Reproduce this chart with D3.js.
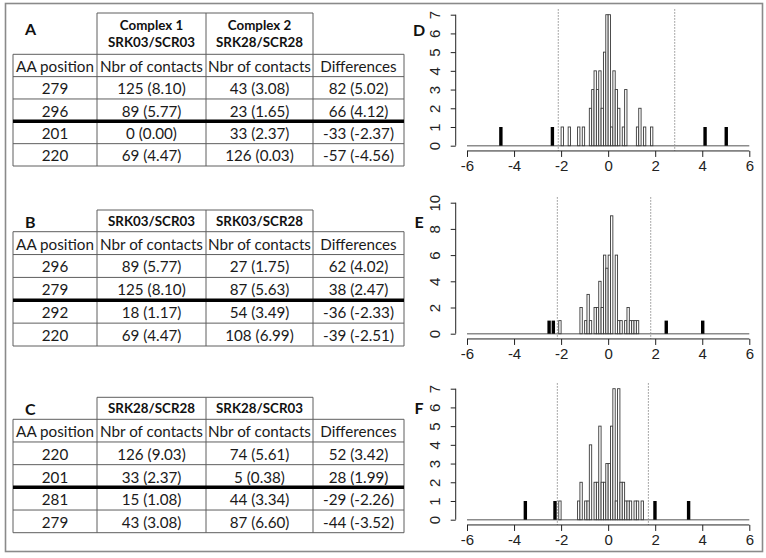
<!DOCTYPE html>
<html><head><meta charset="utf-8">
<script src="https://cdn.jsdelivr.net/npm/d3@7"></script>
<style>body{margin:0;background:#fff}</style>
</head><body>
<svg id="fig" width="766" height="558"></svg>
<script>
// ---------------- DATA ----------------
const colLabels = ["AA position", "Nbr of contacts", "Nbr of contacts", "Differences"];

const tableA_title = "A";
const tableA_header1 = ["Complex 1", "SRK03/SCR03"];
const tableA_header2 = ["Complex 2", "SRK28/SCR28"];
const tableA_positions = ["279", "296", "201", "220"];
const tableA_contacts1 = ["125 (8.10)", "89 (5.77)", "0 (0.00)", "69 (4.47)"];
const tableA_contacts2 = ["43 (3.08)", "23 (1.65)", "33 (2.37)", "126 (0.03)"];
const tableA_diffs = ["82 (5.02)", "66 (4.12)", "-33 (-2.37)", "-57 (-4.56)"];

const tableB_title = "B";
const tableB_header1 = ["SRK03/SCR03"];
const tableB_header2 = ["SRK03/SCR28"];
const tableB_positions = ["296", "279", "292", "220"];
const tableB_contacts1 = ["89 (5.77)", "125 (8.10)", "18 (1.17)", "69 (4.47)"];
const tableB_contacts2 = ["27 (1.75)", "87 (5.63)", "54 (3.49)", "108 (6.99)"];
const tableB_diffs = ["62 (4.02)", "38 (2.47)", "-36 (-2.33)", "-39 (-2.51)"];

const tableC_title = "C";
const tableC_header1 = ["SRK28/SCR28"];
const tableC_header2 = ["SRK28/SCR03"];
const tableC_positions = ["220", "201", "281", "279"];
const tableC_contacts1 = ["126 (9.03)", "33 (2.37)", "15 (1.08)", "43 (3.08)"];
const tableC_contacts2 = ["74 (5.61)", "5 (0.38)", "44 (3.34)", "87 (6.60)"];
const tableC_diffs = ["52 (3.42)", "28 (1.99)", "-29 (-2.26)", "-44 (-3.52)"];

// histograms: bin left edges (bin width 0.1) and counts
const binWidth = 0.1;
const histD_title = "D";
const histD_bins = [-2.0,-1.7,-1.3,-1.1,-0.8,-0.7,-0.6,-0.5,-0.4,-0.3,-0.2,-0.1,0.0,0.1,0.2,0.3,0.4,0.6,0.7,1.2,1.3,1.5,1.8];
const histD_counts = [1,1,1,1,2,3,4,3,4,2,5,7,7,1,4,3,2,1,3,1,2,1,1];
const histD_observed = [5.02, 4.12, -2.37, -4.56];
const histD_thresholds = [-2.12, 2.83];
const histD_yTicks = [0,1,2,3,4,5,6,7];

const histE_title = "E";
const histE_bins = [-2.1,-1.2,-1.0,-0.9,-0.8,-0.6,-0.5,-0.4,-0.3,-0.2,-0.1,0.0,0.1,0.3,0.4,0.5,0.7,0.8,0.9,1.0,1.1,1.2];
const histE_counts = [1,2,1,3,1,2,2,4,2,6,5,6,9,6,1,1,1,2,1,1,1,1];
const histE_observed = [4.02, 2.47, -2.33, -2.51];
const histE_thresholds = [-2.16, 1.81];
const histE_yTicks = [0,2,4,6,8,10];

const histF_title = "F";
const histF_bins = [-2.1,-1.3,-1.2,-1.0,-0.9,-0.8,-0.6,-0.5,-0.4,-0.3,-0.2,-0.1,0.0,0.1,0.2,0.3,0.4,0.5,0.6,0.7,0.8,0.9,1.1,1.2,1.4];
const histF_counts = [1,1,2,1,1,4,2,2,5,2,2,3,3,5,7,1,7,2,2,1,1,1,1,1,1];
const histF_observed = [3.42, 1.99, -2.26, -3.52];
const histF_thresholds = [-2.16, 1.71];
const histF_yTicks = [0,1,2,3,4,5,6,7];

const xTicks = [-6,-4,-2,0,2,4,6];

// ---------------- DRAWING ----------------
const svg = d3.select("#fig");
const TFONT = "Lato, 'Open Sans', sans-serif";
const RFONT = "'Liberation Sans', Arial, sans-serif";

function fitSize(text, weight, target, family) {
  const t = svg.append("text").attr("font-family", family).attr("font-weight", weight)
    .attr("font-size", 100).text(text);
  const w = t.node().getComputedTextLength();
  t.remove();
  return 100 * target / w;
}
const bodySize = fitSize("Nbr of contacts", "normal", 103, TFONT);
const boldSize = fitSize("SRK03/SCR03", "bold", 87, TFONT);

// outer frame
svg.append("rect").attr("x", 5.5).attr("y", 3.5).attr("width", 757).attr("height", 548)
  .attr("fill", "none").attr("stroke", "#8a8a8a").attr("stroke-width", 1.6);

const cols = [13, 97, 206, 313, 404];
const lineColor = "#5e5e5e";

function drawTable(cfg) {
  const g = svg.append("g");
  const rows = [colLabels].concat(cfg.positions.map((p, i) =>
    [p, cfg.c1[i], cfg.c2[i], cfg.diffs[i]]));
  const yRow = i => cfg.hdrBottom + i * cfg.rowH;
  const bottom = yRow(rows.length);
  g.append("line").attr("x1", cols[1]).attr("x2", cols[3]).attr("y1", cfg.top).attr("y2", cfg.top)
    .attr("stroke", lineColor).attr("stroke-width", 1);
  [1, 2, 3].forEach(c => g.append("line").attr("x1", cols[c]).attr("x2", cols[c])
    .attr("y1", cfg.top).attr("y2", cfg.hdrBottom).attr("stroke", lineColor).attr("stroke-width", 1));
  for (let i = 0; i <= rows.length; i++) {
    if (i === 3) continue;
    g.append("line").attr("x1", cols[0]).attr("x2", cols[4]).attr("y1", yRow(i)).attr("y2", yRow(i))
      .attr("stroke", lineColor).attr("stroke-width", 1);
  }
  cols.forEach(x => g.append("line").attr("x1", x).attr("x2", x).attr("y1", cfg.hdrBottom).attr("y2", bottom)
    .attr("stroke", lineColor).attr("stroke-width", 1));
  g.append("line").attr("x1", cols[0]).attr("x2", cols[4]).attr("y1", yRow(3)).attr("y2", yRow(3))
    .attr("stroke", "#000").attr("stroke-width", 3.5);
  const hc = (cfg.top + cfg.hdrBottom) / 2;
  [cfg.h1, cfg.h2].forEach((lines, j) => {
    const cx = (cols[j + 1] + cols[j + 2]) / 2;
    lines.forEach((s, k) => {
      const off = lines.length === 1 ? 0 : (k === 0 ? -8.3 : 8.3);
      g.append("text").attr("x", cx).attr("y", hc + off).attr("text-anchor", "middle")
        .attr("dominant-baseline", "central").attr("font-family", TFONT).attr("font-weight", "bold")
        .attr("font-size", boldSize).attr("fill", "#111").text(s);
    });
  });
  g.append("text").attr("x", 25).attr("y", cfg.labelY).attr("dominant-baseline", "central")
    .attr("font-family", TFONT).attr("font-weight", "bold").attr("font-size", 16).attr("fill", "#111")
    .text(cfg.title);
  rows.forEach((r, i) => r.forEach((s, c) => {
    g.append("text").attr("x", (cols[c] + cols[c + 1]) / 2).attr("y", yRow(i) + cfg.rowH / 2 + 0.5)
      .attr("text-anchor", "middle").attr("dominant-baseline", "central")
      .attr("font-family", TFONT).attr("font-size", bodySize).attr("fill", "#1a1a1a").text(s);
  }));
}

drawTable({title: tableA_title, h1: tableA_header1, h2: tableA_header2, positions: tableA_positions,
  c1: tableA_contacts1, c2: tableA_contacts2, diffs: tableA_diffs,
  top: 13, hdrBottom: 54.3, rowH: 22.34, labelY: 28});
drawTable({title: tableB_title, h1: tableB_header1, h2: tableB_header2, positions: tableB_positions,
  c1: tableB_contacts1, c2: tableB_contacts2, diffs: tableB_diffs,
  top: 210, hdrBottom: 231.7, rowH: 22.86, labelY: 221.5});
drawTable({title: tableC_title, h1: tableC_header1, h2: tableC_header2, positions: tableC_positions,
  c1: tableC_contacts1, c2: tableC_contacts2, diffs: tableC_diffs,
  top: 397.3, hdrBottom: 419.3, rowH: 22.68, labelY: 408.5});

const x = d3.scaleLinear().domain([-6, 6]).range([467, 749.3]);

function drawHist(cfg) {
  const g = svg.append("g");
  const ymax = cfg.yTicks[cfg.yTicks.length - 1];
  const y = d3.scaleLinear().domain([0, ymax]).range([cfg.y0, cfg.yTop]);
  const yBot = y(-0.04 * ymax), yTopR = y(1.04 * ymax);
  cfg.thresholds.forEach(t => g.append("line").attr("x1", x(t)).attr("x2", x(t))
    .attr("y1", yTopR).attr("y2", yBot).attr("stroke", "#555").attr("stroke-width", 1)
    .attr("stroke-dasharray", "1,2"));
  g.append("line").attr("x1", x(-6)).attr("x2", x(6)).attr("y1", y(0)).attr("y2", y(0))
    .attr("stroke", "#8c8c8c").attr("stroke-width", 1.6);
  g.selectAll("rect.bar").data(cfg.bins.map((b, i) => ({b, c: cfg.counts[i]}))).enter()
    .append("rect").attr("class", "bar")
    .attr("x", d => x(d.b)).attr("width", d => x(d.b + binWidth) - x(d.b))
    .attr("y", d => y(d.c)).attr("height", d => y(0) - y(d.c))
    .attr("fill", "#fff").attr("stroke", "#3a3a3a").attr("stroke-width", 0.9);
  cfg.observed.forEach(v => g.append("line").attr("x1", x(v)).attr("x2", x(v))
    .attr("y1", y(0)).attr("y2", y(1)).attr("stroke", "#000").attr("stroke-width", 3.4));
  const xa = g.append("g").attr("transform", `translate(0,${yBot})`)
    .call(d3.axisBottom(x).tickValues(xTicks).tickSize(6).tickFormat(d3.format("d")));
  xa.select(".domain").attr("stroke", "#222").attr("d", `M${x(-6)},0H${x(6)}`);
  xa.selectAll(".tick line").attr("stroke", "#222");
  xa.selectAll(".tick text").attr("font-family", RFONT).attr("font-size", 15).attr("fill", "#222")
    .attr("dy", null).attr("y", 15).attr("dominant-baseline", "central").text(d => d < 0 ? "-" + (-d) : d);
  const yAxisX = x(-6.48);
  const ya = g.append("g").attr("transform", `translate(${yAxisX},0)`)
    .call(d3.axisLeft(y).tickValues(cfg.yTicks).tickSize(5).tickFormat(d3.format("d")));
  ya.select(".domain").attr("stroke", "#222").attr("d", `M0,${y(0)}V${y(ymax)}`);
  ya.selectAll(".tick line").attr("stroke", "#222");
  ya.selectAll(".tick text").attr("font-family", RFONT).attr("font-size", 15).attr("fill", "#222")
    .attr("x", null).attr("dy", null).attr("text-anchor", "middle").attr("dominant-baseline", "central")
    .attr("transform", "translate(-21,0) rotate(-90)");
  g.append("text").attr("x", 419).attr("y", cfg.labelY).attr("text-anchor", "middle")
    .attr("dominant-baseline", "central").attr("font-family", TFONT).attr("font-weight", "bold")
    .attr("font-size", 16).attr("fill", "#111").text(cfg.title);
}

drawHist({title: histD_title, bins: histD_bins, counts: histD_counts, observed: histD_observed,
  thresholds: histD_thresholds, yTicks: histD_yTicks, y0: 145.7, yTop: 14.7, labelY: 29});
drawHist({title: histE_title, bins: histE_bins, counts: histE_counts, observed: histE_observed,
  thresholds: histE_thresholds, yTicks: histE_yTicks, y0: 333.7, yTop: 202.7, labelY: 221});
drawHist({title: histF_title, bins: histF_bins, counts: histF_counts, observed: histF_observed,
  thresholds: histF_thresholds, yTicks: histF_yTicks, y0: 519.7, yTop: 388.7, labelY: 407});
</script>
</body></html>
